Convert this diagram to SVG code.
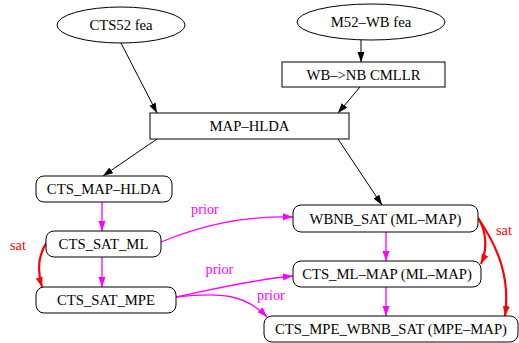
<svg xmlns="http://www.w3.org/2000/svg" width="519" height="343" viewBox="0 0 519 343" font-family="'Liberation Serif', 'Times New Roman', Times, serif">
<style>
.n{font-family:'Liberation Serif','Times New Roman',Times,serif;font-size:14.7px;text-anchor:middle;fill:#000;}
.l{font-family:'Liberation Serif','Times New Roman',Times,serif;font-size:14.3px;text-anchor:middle;}
.shape{fill:#fff;stroke:#000;stroke-width:1;}
.e{fill:none;stroke:#000;stroke-width:1;}
.m{fill:none;stroke:#ff00ff;stroke-width:1.3;}
.r{fill:none;stroke:#ff0000;stroke-width:2.2;}
</style>
<defs>
<marker id="ab" markerUnits="userSpaceOnUse" markerWidth="10" markerHeight="8" refX="10" refY="4" orient="auto"><path d="M0,0.5 L10,4 L0,7.5 z" fill="#000"/></marker>
<marker id="am" markerUnits="userSpaceOnUse" markerWidth="10" markerHeight="8" refX="10" refY="4" orient="auto"><path d="M0,0.5 L10,4 L0,7.5 z" fill="#ff00ff"/></marker>
<marker id="ar" markerUnits="userSpaceOnUse" markerWidth="10" markerHeight="8" refX="10" refY="4" orient="auto"><path d="M0,0.5 L10,4 L0,7.5 z" fill="#ff0000"/></marker>
</defs>
<rect width="519" height="343" fill="#fff"/>
<g id="connectors">
<path class="e" d="M121,43 L157,113" marker-end="url(#ab)"/>
<path class="e" d="M361,40 L361,62" marker-end="url(#ab)"/>
<path class="e" d="M360,87 L338,113" marker-end="url(#ab)"/>
<path class="e" d="M157,139 L103,176" marker-end="url(#ab)"/>
<path class="e" d="M338,139 L382,205" marker-end="url(#ab)"/>
<path class="m" d="M102,202 L102,231" marker-end="url(#am)"/>
<path class="m" d="M102,257 L102,287" marker-end="url(#am)"/>
<path class="m" d="M161,242 C200,226 240,216 293,217" marker-end="url(#am)"/>
<path class="m" d="M176,297 C210,290 250,280 293,276" marker-end="url(#am)"/>
<path class="m" d="M176,297 C220,292 245,294 267,317" marker-end="url(#am)"/>
<path class="m" d="M386,232 L386,261" marker-end="url(#am)"/>
<path class="m" d="M386,287 L386,316" marker-end="url(#am)"/>
<path class="r" d="M47,242 C38,255 37,270 42,287" marker-end="url(#ar)"/>
<path class="r" d="M478,218 C486,230 488,248 481,264" marker-end="url(#ar)"/>
<path class="r" d="M478,218 C500,250 510,280 505,316" marker-end="url(#ar)"/>
<text class="l" x="205" y="214" fill="#ff00ff">prior</text>
<text class="l" x="219.5" y="274" fill="#ff00ff">prior</text>
<text class="l" x="271" y="300" fill="#ff00ff">prior</text>
<text class="l" x="18" y="250" fill="#ff0000">sat</text>
<text class="l" x="504" y="235" fill="#ff0000">sat</text>
</g>
<g id="cts52fea"><ellipse class="shape" cx="121" cy="25" rx="64" ry="18"/><text class="n" x="121" y="30">CTS52 fea</text></g>
<g id="m52wbfea"><ellipse class="shape" cx="371" cy="22" rx="74" ry="18"/><text class="n" x="371" y="27">M52–WB fea</text></g>
<g id="wbnbcmllr"><rect class="shape" x="282" y="62" width="163" height="25"/><text class="n" x="363.5" y="79.5">WB–&gt;NB CMLLR</text></g>
<g id="maphlda"><rect class="shape" x="150" y="113" width="199" height="26"/><text class="n" x="249.5" y="131">MAP–HLDA</text></g>
<g id="cts_map_hlda"><rect class="shape" x="36" y="176" width="136" height="26" rx="8"/><text class="n" x="104" y="194">CTS_MAP–HLDA</text></g>
<g id="cts_sat_ml"><rect class="shape" x="46" y="231" width="115" height="26" rx="8"/><text class="n" x="103.5" y="249">CTS_SAT_ML</text></g>
<g id="cts_sat_mpe"><rect class="shape" x="36" y="287" width="140" height="26" rx="8"/><text class="n" x="106" y="305">CTS_SAT_MPE</text></g>
<g id="wbnb_sat"><rect class="shape" x="293" y="205" width="185" height="27" rx="8"/><text class="n" x="385.5" y="223.5">WBNB_SAT (ML–MAP)</text></g>
<g id="cts_ml_map"><rect class="shape" x="293" y="261" width="188" height="26" rx="8"/><text class="n" x="387" y="279">CTS_ML–MAP (ML–MAP)</text></g>
<g id="cts_mpe_wbnb_sat"><rect class="shape" x="264" y="316" width="254" height="26" rx="8"/><text class="n" x="391" y="334">CTS_MPE_WBNB_SAT (MPE–MAP)</text></g>
</svg>
